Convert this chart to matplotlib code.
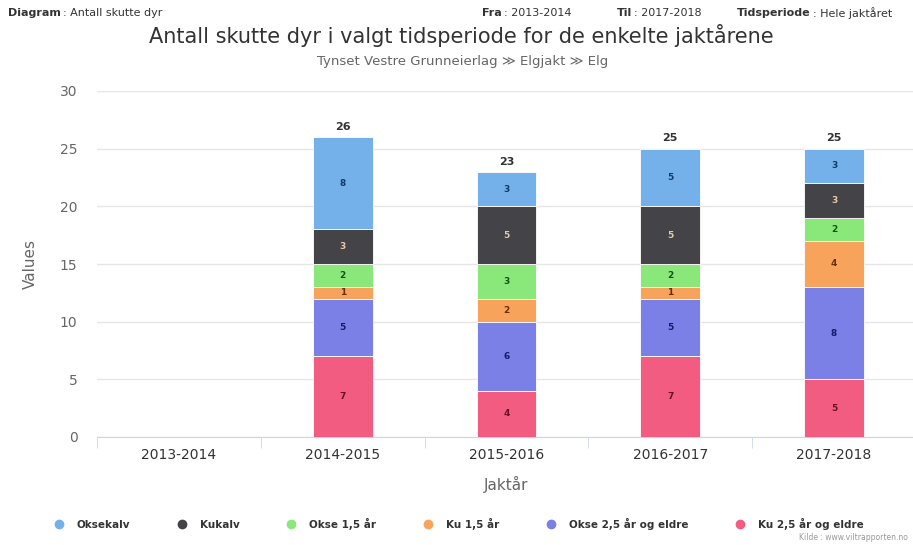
import matplotlib
matplotlib.use("Agg")
import matplotlib.pyplot as plt
import numpy as np
from matplotlib.lines import Line2D

plt.rcParams['font.family'] = ['DejaVu Sans']

categories = ["2013-2014", "2014-2015", "2015-2016", "2016-2017", "2017-2018"]
series_names = ["Ku 2,5 år og eldre", "Okse 2,5 år og eldre", "Ku 1,5 år",
                "Okse 1,5 år", "Kukalv", "Oksekalv"]
ku_25 = [0, 7, 4, 7, 5]
okse_25 = [0, 5, 6, 5, 8]
ku_15 = [0, 1, 2, 1, 4]
okse_15 = [0, 2, 3, 2, 2]
kukalv = [0, 3, 5, 5, 3]
oksekalv = [0, 8, 3, 5, 3]
series_values = [ku_25, okse_25, ku_15, okse_15, kukalv, oksekalv]
colors = ["#f15c80", "#7a80e6", "#f7a35c", "#8ae87a", "#434348", "#74b1ea"]
label_colors = ["#6a1026", "#161a6a", "#6a2f00", "#145214", "#e8c8a8", "#123a6a"]
legend_order = [5, 4, 3, 2, 1, 0]

header_items = [("Diagram", ": Antall skutte dyr", 8), ("Fra", ": 2013-2014", 482),
                ("Til", ": 2017-2018", 617), ("Tidsperiode", ": Hele jaktåret", 737)]

fig = plt.figure(figsize=(9.13, 5.45), dpi=100)
W, H = 913, 545
left, right, bottom, top = 97, 916, 437, 91
ax = fig.add_axes([left / W, 1 - bottom / H, (right - left) / W, (bottom - top) / H])

x = np.arange(len(categories))
bar_w = 0.365
base = np.zeros(len(categories))
for vals, c, lc in zip(series_values, colors, label_colors):
    v = np.array(vals, dtype=float)
    ax.bar(x, v, bottom=base, width=bar_w, color=c, edgecolor="white", linewidth=0.6, zorder=3)
    for xi, (b, vi) in enumerate(zip(base, v)):
        if vi > 0:
            ax.text(xi, b + vi / 2, f"{int(vi)}", ha="center", va="center", fontsize=6.5,
                    fontweight="bold", color=lc, zorder=4)
    base = base + v

for xi, t in enumerate(base):
    if t > 0:
        ax.text(xi, t + 0.45, f"{int(t)}", ha="center", va="bottom", fontsize=8,
                fontweight="bold", color="#333333", zorder=4)

ax.set_xlim(-0.5, len(categories) - 0.5)
ax.set_ylim(0, 30)
ax.set_yticks(range(0, 31, 5))
ax.yaxis.grid(True, color="#e6e6e6", linewidth=1, zorder=0)
ax.set_axisbelow(True)
for s in ["top", "right", "left"]:
    ax.spines[s].set_visible(False)
ax.spines["bottom"].set_color("#ccd6eb")
ax.set_xticks(x)
ax.set_xticklabels(categories, fontsize=10, color="#333333")
ax.set_xticks(np.arange(-0.5, len(categories), 1.0), minor=True)
ax.tick_params(axis="x", which="major", length=0, pad=8)
ax.tick_params(axis="x", which="minor", length=8, color="#ccd6eb")
ax.tick_params(axis="y", length=0, labelsize=10, labelcolor="#666666", pad=14)
ax.set_xlabel("Jaktår", fontsize=11, color="#666666", labelpad=10)
ax.set_ylabel("Values", fontsize=11, color="#666666", labelpad=16)

fig.text(461 / W, 1 - 35 / H, "Antall skutte dyr i valgt tidsperiode for de enkelte jaktårene",
         ha="center", va="center", fontsize=15, color="#333333")
fig.text(463 / W, 1 - 62 / H, "Tynset Vestre Grunneierlag ≫ Elgjakt ≫ Elg",
         ha="center", va="center", fontsize=9.5, color="#666666")

hdr_y = 1 - 13 / H
fs_h = 8
renderer = fig.canvas.get_renderer()
for bold, rest, xpos in header_items:
    tb = fig.text(xpos / W, hdr_y, bold, ha="left", va="center", fontsize=fs_h,
                  fontweight="bold", color="#333333")
    bb = tb.get_window_extent(renderer=renderer)
    fig.text(bb.x1 / W + 2 / W, hdr_y, rest, ha="left", va="center", fontsize=fs_h, color="#333333")

handles = [Line2D([0], [0], marker="o", linestyle="none", markersize=6,
                  markerfacecolor=colors[i], markeredgecolor=colors[i]) for i in legend_order]
labels = [series_names[i] for i in legend_order]
leg = fig.legend(handles, labels, loc="center", bbox_to_anchor=(456 / W, 1 - 524 / H),
                 ncol=6, frameon=False, fontsize=7.5, columnspacing=4.0, handletextpad=0.7)
for t in leg.get_texts():
    t.set_fontweight("bold")
    t.set_color("#333333")

fig.text(908 / W, 1 - 538 / H, "Kilde : www.viltrapporten.no", ha="right", va="center",
         fontsize=5.5, color="#999999")

fig.savefig("out.png", dpi=100)
